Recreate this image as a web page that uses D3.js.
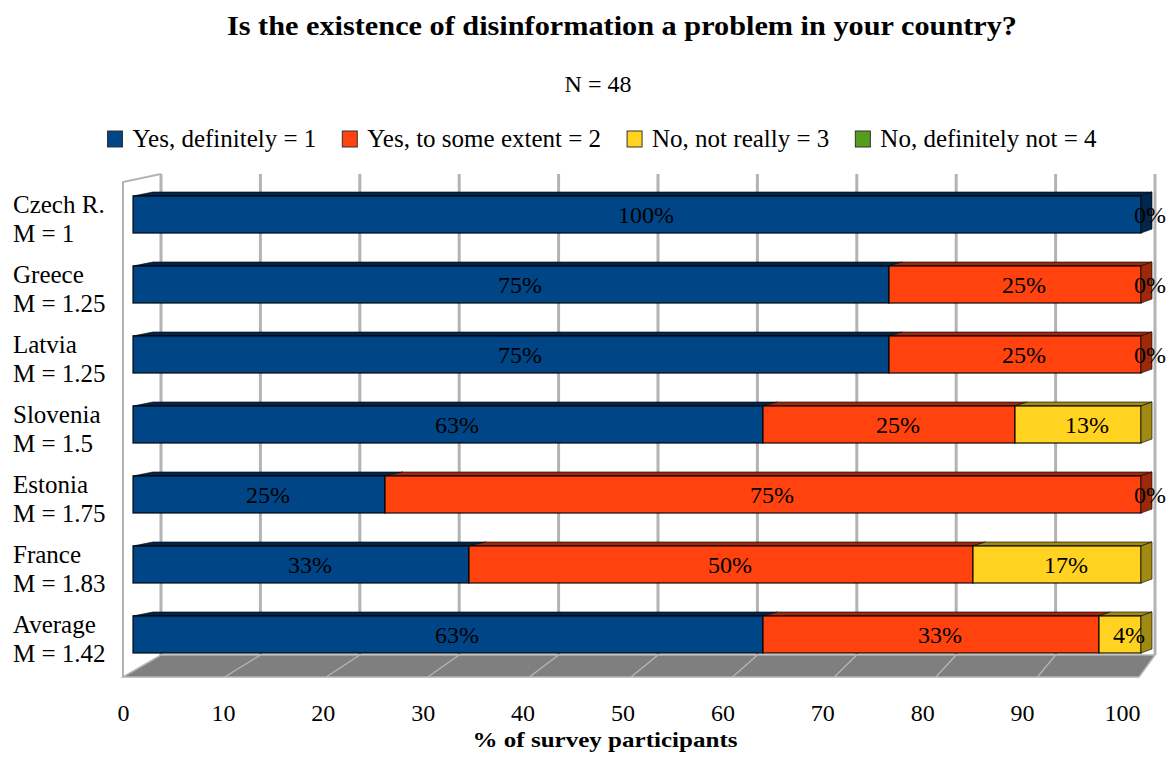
<!DOCTYPE html>
<html>
<head>
<meta charset="utf-8">
<script src="https://cdn.jsdelivr.net/npm/d3@7"></script>
<style>
  html, body { margin: 0; padding: 0; background: #fff; }
  svg { display: block; font-family: "Liberation Serif", "Times New Roman", serif; }
</style>
</head>
<body>
<svg id="chart" width="1172" height="760"></svg>
<script>
// ---- data ----
const title = "Is the existence of disinformation a problem in your country?";
const subtitle = "N = 48";
const xAxisTitle = "% of survey participants";
const categories = ["Czech R.", "Greece", "Latvia", "Slovenia", "Estonia", "France", "Average"];
const meanLabels = ["M = 1", "M = 1.25", "M = 1.25", "M = 1.5", "M = 1.75", "M = 1.83", "M = 1.42"];
const seriesNames = ["Yes, definitely = 1", "Yes, to some extent = 2", "No, not really = 3", "No, definitely not = 4"];
const yesDefinitely = [100, 75, 75, 62.5, 25, 33.33, 62.5];
const yesSomeExtent = [0, 25, 25, 25, 75, 50, 33.33];
const noNotReally   = [0, 0, 0, 12.5, 0, 16.67, 4.17];
const noDefinitely  = [0, 0, 0, 0, 0, 0, 0];
const tickValues = [0, 10, 20, 30, 40, 50, 60, 70, 80, 90, 100];

const frontColors = ["#004586", "#ff420e", "#ffd320", "#579d1c"];
const darkColors  = ["#00264b", "#9c2a0a", "#a08a14", "#355f10"];

const FONT = "'Liberation Serif', 'Times New Roman', serif";
const seriesValues = [yesDefinitely, yesSomeExtent, noNotReally, noDefinitely];
const rows = categories.map((c, i) => {
  const r = { cat: c, mean: meanLabels[i] };
  seriesNames.forEach((s, j) => r[s] = seriesValues[j][i]);
  return r;
});

const svg = d3.select("#chart").attr("font-family", FONT);

// ---- scales ----
const xFront = d3.scaleLinear().domain([0, 100]).range([133, 1141]);
const xBack = d3.scaleLinear().domain([0, 100]).range([161, 1155]);
const xFloorFront = d3.scaleLinear().domain([0, 100]).range([123, 1139]);
const xTicks = d3.scaleLinear().domain([0, 100]).range([123, 1122]);
const depthX = d3.scaleLinear().domain([0, 100]).range([20, 11]);
const depthY = -4;
const y = d3.scaleBand().domain(categories).range([196, 653]).paddingInner(0.471).paddingOuter(0);
const color = d3.scaleOrdinal().domain(seriesNames).range(frontColors);
const dark = d3.scaleOrdinal().domain(seriesNames).range(darkColors);

const wallTop = 174, wallBottom = 655, floorFront = 677, leftWallTop = 182;
const gridColor = "#b3b3b3";

// ---- walls ----
const walls = svg.append("g");
walls.append("path")
  .attr("d", `M${xBack(0)},${wallBottom} L${xBack(100)},${wallBottom} L${xFloorFront(100)},${floorFront} L${xFloorFront(0)},${floorFront} Z`)
  .attr("fill", "#7f7f7f").attr("stroke", "#b3b3b3").attr("stroke-width", 1.5);
walls.selectAll("line.floorgrid").data(tickValues.slice(1, -1)).join("line")
  .attr("x1", d => xBack(d)).attr("y1", wallBottom)
  .attr("x2", d => xFloorFront(d)).attr("y2", floorFront)
  .attr("stroke", "#b8b8b8").attr("stroke-width", 1.2);
walls.append("path")
  .attr("d", `M${xFloorFront(0)},${floorFront} L${xFloorFront(0)},${leftWallTop} L${xBack(0)},${wallTop}`)
  .attr("fill", "none").attr("stroke", gridColor).attr("stroke-width", 2);
walls.selectAll("line.grid").data(tickValues).join("line")
  .attr("x1", d => xBack(d)).attr("x2", d => xBack(d))
  .attr("y1", wallTop).attr("y2", wallBottom)
  .attr("stroke", gridColor).attr("stroke-width", 3);

// ---- bars ----
const stack = d3.stack().keys(seriesNames)(rows);
const bars = svg.append("g");
stack.forEach((layer) => {
  const key = layer.key;
  const g = bars.append("g");
  layer.forEach((d) => {
    const v0 = d[0], v1 = d[1];
    if (v1 - v0 <= 0) return;
    const yt = y(d.data.cat), h = y.bandwidth();
    const x0 = xFront(v0), x1 = xFront(v1);
    const b0 = x0 + depthX(v0), b1 = x1 + depthX(v1);
    g.append("path")
      .attr("d", `M${x0},${yt} L${b0},${yt + depthY} L${b1},${yt + depthY} L${x1},${yt} Z`)
      .attr("fill", dark(key)).attr("stroke", "rgba(0,0,0,0.6)").attr("stroke-width", 1);
    g.append("rect")
      .attr("x", x0).attr("y", yt).attr("width", x1 - x0).attr("height", h)
      .attr("fill", color(key)).attr("stroke", "rgba(0,0,0,0.75)").attr("stroke-width", 1.5);
    const total = d3.sum(seriesNames, s => d.data[s]);
    if (Math.abs(v1 - total) < 1e-6) {
      g.append("path")
        .attr("d", `M${x1},${yt} L${b1},${yt + depthY} L${b1},${yt + h + depthY} L${x1},${yt + h} Z`)
        .attr("fill", dark(key)).attr("stroke", "rgba(0,0,0,0.6)").attr("stroke-width", 1);
    }
  });
});

// value labels
const labels = svg.append("g").attr("font-family", FONT).attr("font-size", 24).attr("fill", "#000").attr("text-anchor", "middle");
stack.forEach((layer, si) => {
  layer.forEach(d => {
    const v = d[1] - d[0];
    if (v <= 0 && si !== 2) return;
    labels.append("text")
      .attr("x", (xFront(d[0]) + xFront(d[1])) / 2 + 9)
      .attr("y", y(d.data.cat) + y.bandwidth() / 2 + 8.5)
      .text(Math.round(v) + "%");
  });
});

// category labels
const cl = svg.append("g").attr("font-family", FONT).attr("font-size", 25).attr("fill", "#000");
rows.forEach(r => {
  const cy = y(r.cat) + y.bandwidth() / 2;
  cl.append("text").attr("x", 13).attr("y", cy - 1.5).text(r.cat);
  cl.append("text").attr("x", 13).attr("y", cy + 27.5).text(r.mean);
});

// x axis labels
const ax = svg.append("g").attr("transform", "translate(0,700)")
  .call(d3.axisBottom(xTicks).tickValues(tickValues).tickSize(0).tickPadding(0).tickFormat(d3.format("d")));
ax.attr("font-family", FONT).attr("font-size", 24);
ax.select(".domain").remove();
ax.selectAll("text").attr("fill", "#000").attr("dy", null).attr("y", 21);

svg.append("text").attr("x", 605).attr("y", 747).attr("text-anchor", "middle")
  .attr("font-size", 22).attr("font-weight", "bold").attr("textLength", 265).attr("lengthAdjust", "spacingAndGlyphs")
  .text(xAxisTitle);

// title
svg.append("text").attr("x", 622).attr("y", 35).attr("text-anchor", "middle")
  .attr("font-size", 27).attr("font-weight", "bold").attr("textLength", 790).attr("lengthAdjust", "spacingAndGlyphs")
  .text(title);
svg.append("text").attr("x", 598).attr("y", 92).attr("text-anchor", "middle")
  .attr("font-size", 24).text(subtitle);

// legend
const legend = svg.append("g").attr("font-family", FONT).attr("font-size", 25);
let lx = 0;
seriesNames.forEach((s) => {
  const g = legend.append("g").attr("transform", `translate(${lx},0)`);
  g.append("rect").attr("x", 0).attr("y", 131).attr("width", 15).attr("height", 16)
    .attr("fill", color(s)).attr("stroke", "#333").attr("stroke-width", 1);
  const t = g.append("text").attr("x", 25).attr("y", 147).text(s);
  const w = t.node().getComputedTextLength();
  lx += 25 + w + 26;
});
const totalW = lx - 26;
legend.attr("transform", `translate(${602 - totalW / 2},0)`);
</script>
</body>
</html>
